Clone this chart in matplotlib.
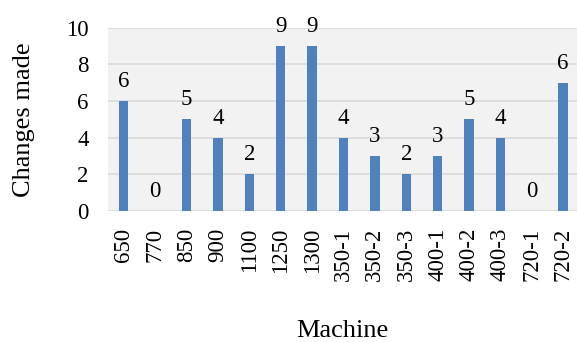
import matplotlib
matplotlib.use("Agg")
import matplotlib.pyplot as plt

# data
machines = ["650", "770", "850", "900", "1100", "1250", "1300", "350-1",
            "350-2", "350-3", "400-1", "400-2", "400-3", "720-1", "720-2"]
changes = [6, 0, 5, 4, 2, 9, 9, 4, 3, 2, 3, 5, 4, 0, 7]
labels = ["6", "0", "5", "4", "2", "9", "9", "4", "3", "2", "3", "5", "4", "0", "6"]
yticks = [0, 2, 4, 6, 8, 10]

plt.rcParams["font.family"] = ["Liberation Serif", "DejaVu Serif"]

fig = plt.figure(figsize=(5.77, 3.42), dpi=100)
ax = fig.add_axes([108 / 577, 1 - 211 / 342, 469 / 577, 183.5 / 342])
ax.set_facecolor("#F2F2F2")

x = range(len(machines))
bars = ax.bar(x, changes, width=0.3, color="#4F81BD", zorder=3)

for bar, lab in zip(bars, labels):
    ax.annotate(lab, (bar.get_x() + bar.get_width() / 2, bar.get_height()),
                xytext=(0, 6.5), textcoords="offset points",
                ha="center", va="bottom", fontsize=16.5, annotation_clip=False)

ax.set_xlim(-0.5, 14.44)
ax.set_ylim(0, 10)
ax.set_yticks(yticks)
ax.set_xticks(list(x))
ax.set_xticklabels(machines, rotation=90, fontsize=16.5)
ax.tick_params(axis="y", labelsize=16.5, length=0, pad=14)
ax.tick_params(axis="x", length=0, pad=12)
ax.grid(axis="y", color="#D9D9D9", linewidth=1.2, zorder=0)
for s in ax.spines.values():
    s.set_visible(False)

ax.set_ylabel("Changes made", fontsize=19, labelpad=22)
ax.set_xlabel("Machine", fontsize=19, labelpad=28)

fig.savefig("out.png", dpi=100)
